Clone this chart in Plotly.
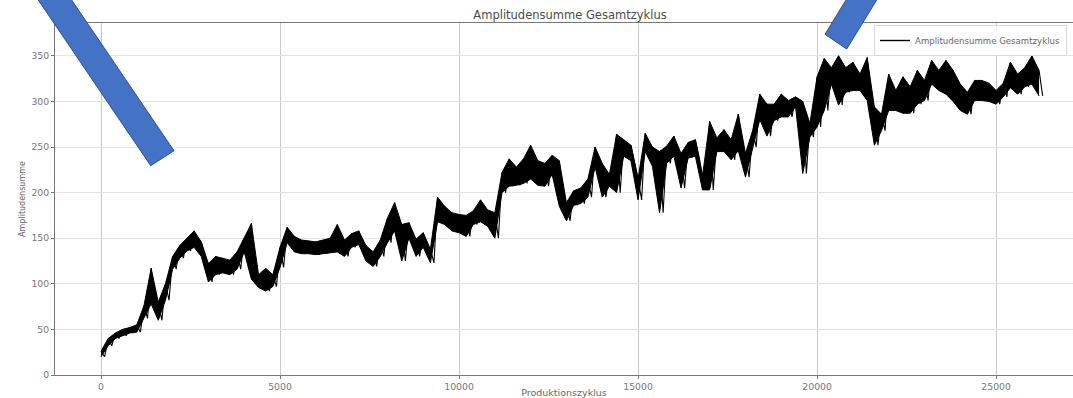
import plotly.graph_objects as go

# ---- data ----
cycle = [0, 200, 400, 600, 800, 1000, 1200, 1400, 1600, 1800,
         2000, 2200, 2400, 2600, 2800, 3000, 3200, 3400, 3600, 3800,
         4000, 4200, 4400, 4600, 4800, 5000, 5200, 5400, 5600, 5800,
         6000, 6200, 6400, 6600, 6800, 7000, 7200, 7400, 7600, 7800,
         8000, 8200, 8400, 8600, 8800, 9000, 9200, 9400, 9600, 9800,
         10000, 10200, 10400, 10600, 10800, 11000, 11200, 11400, 11600, 11800,
         12000, 12200, 12400, 12600, 12800, 13000, 13200, 13400, 13600, 13800,
         14000, 14200, 14400, 14600, 14800, 15000, 15200, 15400, 15600, 15800,
         16000, 16200, 16400, 16600, 16800, 17000, 17200, 17400, 17600, 17800,
         18000, 18200, 18400, 18600, 18800, 19000, 19200, 19400, 19600, 19800,
         20000, 20200, 20400, 20600, 20800, 21000, 21200, 21400, 21600, 21800,
         22000, 22200, 22400, 22600, 22800, 23000, 23200, 23400, 23600, 23800,
         24000, 24200, 24400, 24600, 24800, 25000, 25200, 25400, 25600, 25800,
         26000, 26200]

# local upper / lower values of the noisy signal at each sampled cycle
upper = [26, 40, 46, 50, 52, 55, 76, 117, 80, 100,
         130, 142, 150, 158, 146, 122, 130, 128, 126, 135,
         150, 166, 110, 117, 110, 140, 162, 152, 148, 147,
         146, 148, 150, 165, 148, 155, 158, 142, 135, 148,
         172, 189, 165, 167, 149, 156, 138, 195, 185, 178,
         176, 175, 180, 192, 181, 178, 222, 237, 228, 237,
         252, 235, 232, 241, 235, 189, 202, 205, 215, 250,
         232, 220, 264, 258, 252, 215, 265, 250, 245, 251,
         262, 243, 255, 258, 218, 278, 260, 269, 258, 286,
         243, 268, 308, 297, 297, 308, 301, 305, 300, 276,
         327, 347, 337, 350, 337, 343, 330, 348, 294, 286,
         330, 312, 327, 316, 334, 323, 345, 334, 345, 334,
         319, 310, 323, 323, 320, 312, 320, 343, 330, 337,
         350, 334]

lower = [20, 32, 40, 43, 46, 47, 62, 78, 60, 82,
         116, 128, 136, 140, 130, 102, 110, 112, 110, 116,
         135, 105, 96, 92, 97, 118, 145, 135, 133, 133,
         132, 133, 134, 135, 130, 140, 143, 125, 119, 130,
         145, 158, 125, 150, 130, 140, 123, 168, 165, 158,
         156, 152, 165, 168, 163, 150, 200, 207, 208, 210,
         215, 208, 207, 220, 185, 169, 186, 188, 195, 228,
         195, 207, 200, 240, 235, 192, 245, 229, 178, 232,
         240, 205, 238, 240, 203, 203, 245, 245, 236, 246,
         217, 250, 280, 262, 279, 283, 283, 294, 221, 261,
         272, 290, 319, 296, 310, 312, 312, 301, 252, 268,
         290, 290, 287, 287, 297, 301, 319, 312, 308, 300,
         290, 286, 301, 301, 300, 297, 305, 315, 308, 316,
         319, 306]

x_ticks = [0, 5000, 10000, 15000, 20000, 25000]
y_ticks = [0, 50, 100, 150, 200, 250, 300, 350]

series_name = "Amplitudensumme Gesamtzyklus"

fig = go.Figure()

# dense signal: the envelope between the lower and upper readings is filled
fig.add_trace(go.Scatter(
    x=cycle, y=lower, mode="lines", showlegend=False, hoverinfo="skip",
    line=dict(color="black", width=1),
))
fig.add_trace(go.Scatter(
    x=cycle, y=upper, mode="lines", fill="tonexty", fillcolor="black",
    showlegend=False, hoverinfo="skip",
    line=dict(color="black", width=1),
))

# zig-zag through the readings gives the noisy texture of the trace
xs, ys = [], []
for c, hi, lo in zip(cycle, upper, lower):
    xs += [c, c + 100]
    ys += [hi, lo]
fig.add_trace(go.Scatter(
    x=xs, y=ys, mode="lines", name=series_name, showlegend=False,
    line=dict(color="black", width=1.1),
))
# legend entry (line sample only)
fig.add_trace(go.Scatter(
    x=[None], y=[None], mode="lines", name=series_name,
    line=dict(color="black", width=1.4),
))

# ---- geometry helpers (pixel -> paper) ----
L, R, T, B = 55, 1073, 23, 375
def px(x):
    return (x - L) / (R - L)
def py(y):
    return (B - y) / (B - T)

def band(points):
    d = "M " + " L ".join(f"{px(a):.4f},{py(b):.4f}" for a, b in points) + " Z"
    return dict(type="path", path=d, xref="paper", yref="paper",
                fillcolor="#4472C4", line=dict(color="#2F528F", width=1),
                layer="above")

shapes = [
    band([(31.5, -10), (64.9, -10), (174.0, 150.7), (150.7, 165.7)]),
    band([(852.1, -10), (882.8, -10), (846.7, 49.0), (825.0, 34.3)]),
]

font_family = "DejaVu Sans"

fig.update_layout(
    width=1073, height=398,
    margin=dict(l=L, r=1073 - R, t=T, b=398 - B, autoexpand=False),
    paper_bgcolor="white", plot_bgcolor="white",
    font=dict(family=font_family, color="#666666"),
    title=dict(text=series_name, x=px(570), xref="paper", xanchor="center",
               y=1 - 15 / 398, yref="container", yanchor="middle",
               font=dict(size=11.5, color="#4a4a4a", family=font_family)),
    showlegend=True,
    legend=dict(x=px(874), y=py(25), xanchor="left", yanchor="top",
                bordercolor="#d8d8d8", borderwidth=1,
                bgcolor="rgba(255,255,255,0.85)",
                font=dict(size=8.6, color="#666666", family=font_family)),
    shapes=shapes,
)

fig.update_xaxes(
    range=[-1285, 27148], tickvals=x_ticks, ticktext=[str(v) for v in x_ticks],
    showgrid=True, gridcolor="#c8c8c8", gridwidth=1, zeroline=False,
    showline=True, linecolor="#777777", linewidth=1, mirror=True,
    ticks="outside", ticklen=3, tickcolor="#777777",
    tickfont=dict(size=9.3, color="#777777"),
    title=dict(text="Produktionszyklus", standoff=2,
               font=dict(size=9.5, color="#666666")),
    automargin=False,
)
fig.update_yaxes(
    range=[0, 386], tickvals=y_ticks, ticktext=[str(v) for v in y_ticks],
    showgrid=True, gridcolor="#e3e3e3", gridwidth=1, zeroline=False,
    showline=True, linecolor="#777777", linewidth=1, mirror=True,
    ticks="outside", ticklen=3, tickcolor="#777777",
    tickfont=dict(size=9.3, color="#777777"),
    title=dict(text="Amplitudensumme", standoff=4,
               font=dict(size=8, color="#666666")),
    automargin=False,
)

fig.write_html("out.html")
